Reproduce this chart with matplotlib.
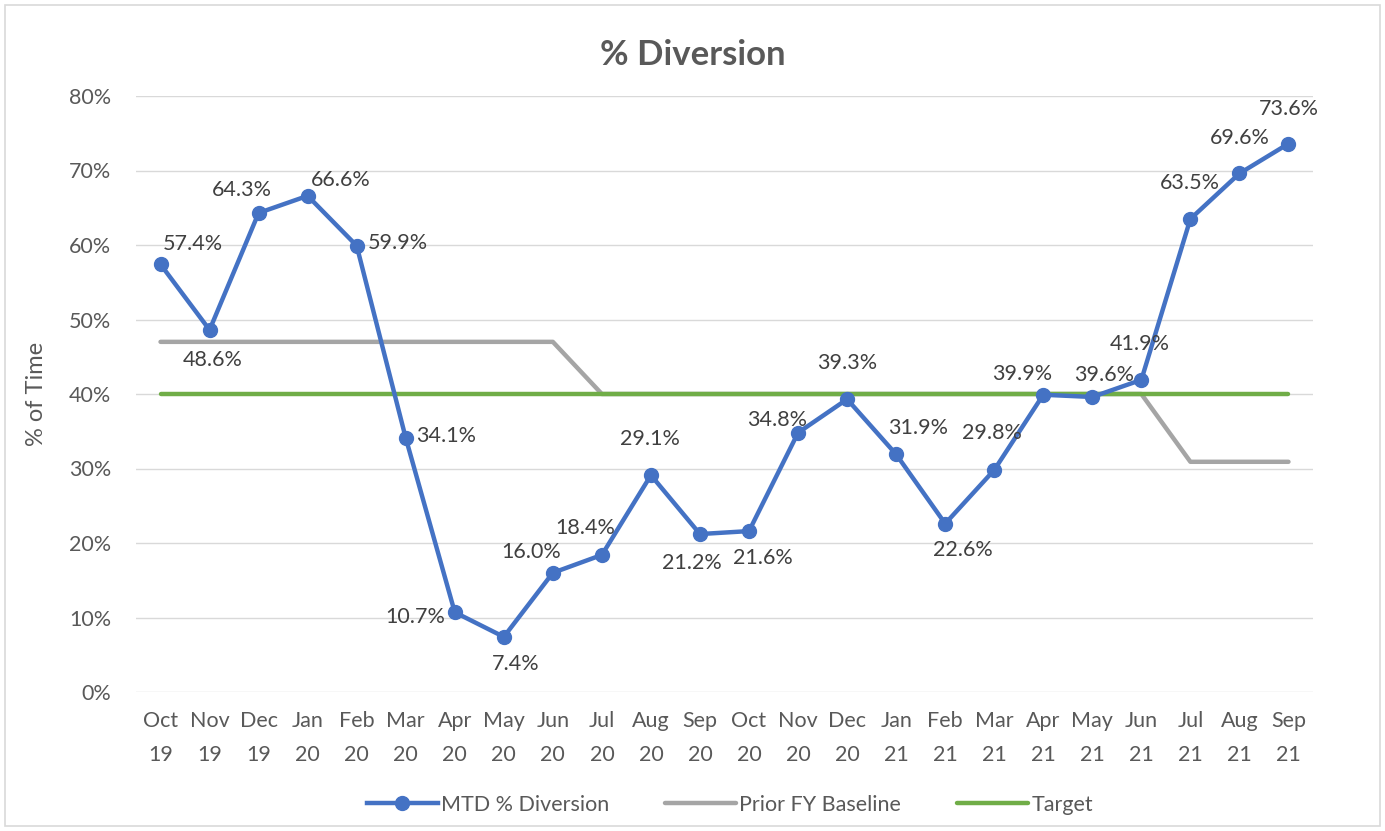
import matplotlib
matplotlib.use("Agg")
import matplotlib.pyplot as plt
from matplotlib.patches import Rectangle

months = ["Oct\n19", "Nov\n19", "Dec\n19", "Jan\n20", "Feb\n20", "Mar\n20", "Apr\n20", "May\n20",
          "Jun\n20", "Jul\n20", "Aug\n20", "Sep\n20", "Oct\n20", "Nov\n20", "Dec\n20", "Jan\n21",
          "Feb\n21", "Mar\n21", "Apr\n21", "May\n21", "Jun\n21", "Jul\n21", "Aug\n21", "Sep\n21"]
mtd = [57.4, 48.6, 64.3, 66.6, 59.9, 34.1, 10.7, 7.4, 16.0, 18.4, 29.1, 21.2,
       21.6, 34.8, 39.3, 31.9, 22.6, 29.8, 39.9, 39.6, 41.9, 63.5, 69.6, 73.6]
baseline = [47.0] * 9 + [40.0] * 12 + [30.9] * 3
target = [40.0] * 24
yticks = [0, 10, 20, 30, 40, 50, 60, 70, 80]

# label offsets in pixels (dx, dy) with dy positive = up
offsets = [(32, 20), (3, -30), (-17, 23), (33, 16), (41, 3), (40, 2), (-40, -5), (12, -27),
           (-22, 21), (-17, 27), (-1, 36), (-8, -29), (14, -27), (-21, 13), (0, 36), (22, 26),
           (18, -26), (-2, 37), (-21, 21), (12, 22), (-2, 36), (-1, 36), (0, 35), (0, 35)]

plt.rcParams['font.family'] = ['Lato', 'DejaVu Sans']
W, H = 1385, 831
fig = plt.figure(figsize=(W / 100, H / 100), dpi=100)
fig.patch.set_facecolor('white')
fig.add_artist(Rectangle((5 / W, 5 / H), 1 - 10 / W, 1 - 10 / H, transform=fig.transFigure,
                         fill=False, edgecolor='#D9D9D9', linewidth=1.2))

ax = fig.add_axes([136 / W, 1 - 692 / H, (1313 - 136) / W, (692 - 96) / H])
x = list(range(len(months)))
ax.plot(x, baseline, color='#A5A5A5', lw=3.2, zorder=2, label='Prior FY Baseline', solid_capstyle='round')
ax.plot(x, target, color='#70AD47', lw=3.2, zorder=3, label='Target', solid_capstyle='round')
ax.plot(x, mtd, color='#4472C4', lw=3.2, marker='o', markersize=10, zorder=4, label='MTD % Diversion')

for i, (v, (dx, dy)) in enumerate(zip(mtd, offsets)):
    ax.annotate(f"{v:.1f}%", (i, v), xytext=(dx, dy), textcoords='offset pixels',
                ha='center', va='center', fontsize=15.5, color='#404040', zorder=5)

ax.set_xlim(-0.5, len(months) - 0.5)
ax.set_ylim(0, 80)
ax.set_yticks(yticks)
ax.set_yticklabels([f"{t}%" for t in yticks])
ax.set_xticks(x)
ax.set_xticklabels(months, linespacing=1.85)
ax.tick_params(axis='both', length=0, labelsize=15.5, labelcolor='#595959')
ax.tick_params(axis='x', pad=14)
ax.tick_params(axis='y', pad=18)
ax.grid(axis='y', color='#D9D9D9', lw=1)
ax.set_axisbelow(True)
for s in ax.spines.values():
    s.set_visible(False)
ax.set_ylabel('% of Time', fontsize=17, color='#595959', labelpad=16)

fig.text(0.5, 1 - 55 / H, '% Diversion', ha='center', va='center', fontsize=25,
         fontweight='bold', color='#595959')

handles, labels = ax.get_legend_handles_labels()
order = [2, 0, 1]
leg = fig.legend([handles[i] for i in order], [labels[i] for i in order], loc='center',
                 bbox_to_anchor=(0.527, 1 - 805 / H), ncol=3, frameon=False, fontsize=15.5,
                 handlelength=3.3, columnspacing=2.6, handletextpad=0.15)
for t in leg.get_texts():
    t.set_color('#595959')

fig.savefig('out.png', dpi=100)
